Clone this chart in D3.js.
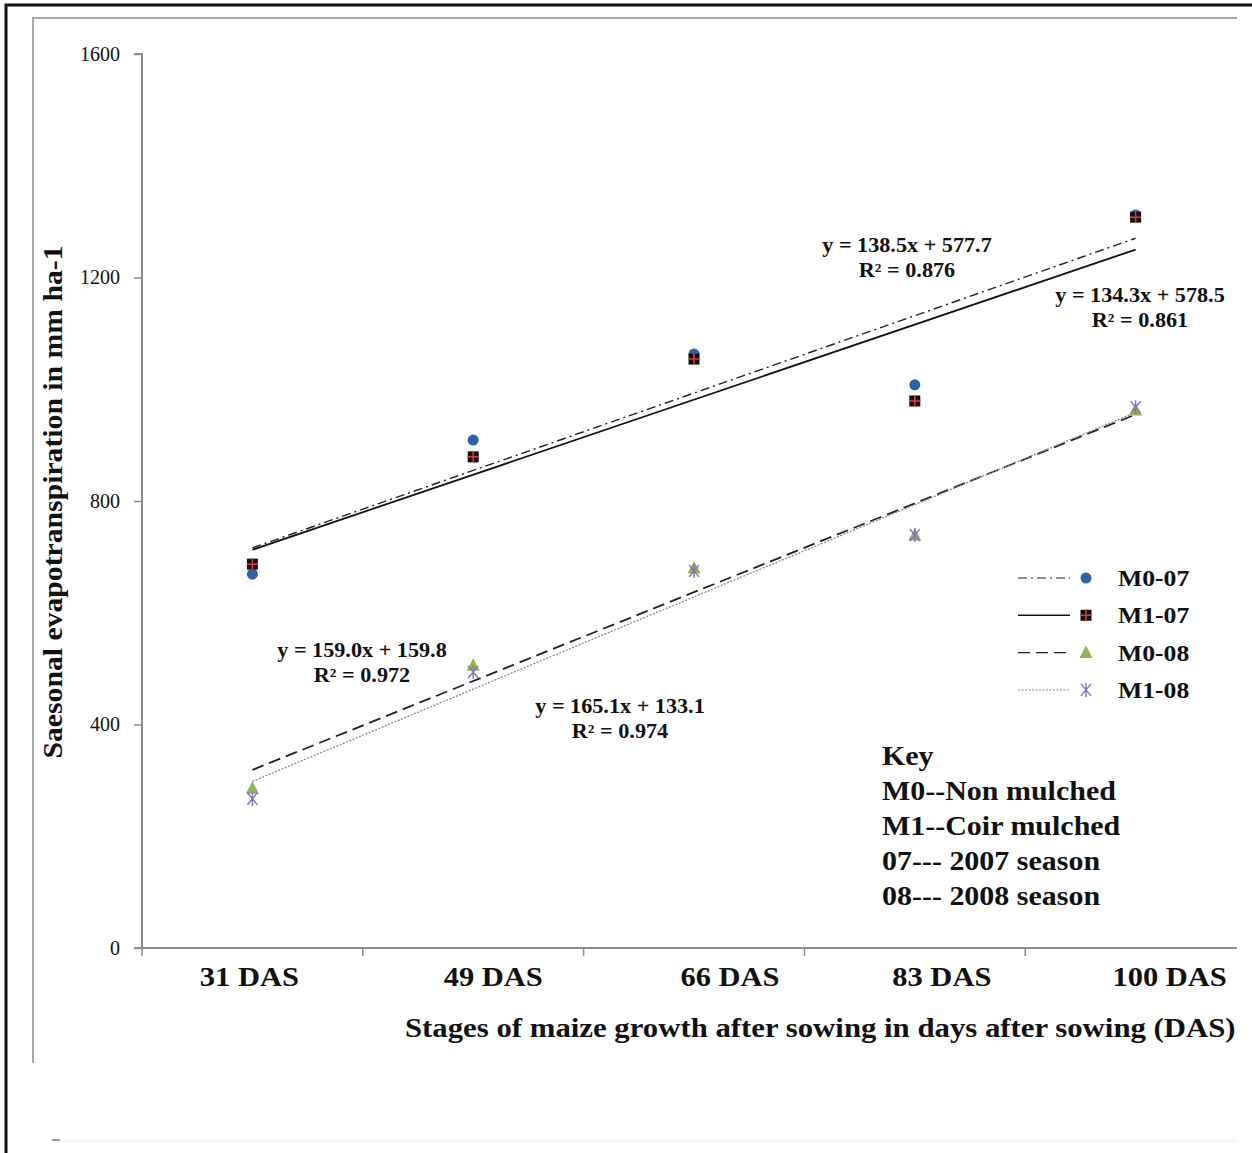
<!DOCTYPE html>
<html lang="en">
<head>
<meta charset="UTF-8">
<title>Seasonal evapotranspiration</title>
<script src="https://d3js.org/d3.v7.min.js"></script>
<style>
    body { margin: 0; background: #fff; overflow: hidden; }
    text { font-family: "Times New Roman", "Liberation Serif", serif; fill: #111; }
</style>
</head>
<body>
<script>
// ---- data ----
var categories = ["31 DAS", "49 DAS", "66 DAS", "83 DAS", "100 DAS"];
var seriesNames = ["M0-07", "M1-07", "M0-08", "M1-08"];
var m0_07 = [669, 909, 1063, 1008, 1312];
var m1_07 = [687, 879, 1054, 979, 1308];
var m0_08 = [286, 506, 680, 739, 963];
var m1_08 = [267, 494, 675, 739, 968];
var trendSlope = [138.5, 134.3, 159.0, 165.1];
var trendIntercept = [577.7, 578.5, 159.8, 133.1];
var trendR2 = ["0.876", "0.861", "0.972", "0.974"];
var yTicks = [0, 400, 800, 1200, 1600];
var keyLines = ["Key", "M0--Non mulched", "M1--Coir mulched", "07--- 2007 season", "08--- 2008 season"];

var series = [m0_07, m1_07, m0_08, m1_08];

var width = 1252, height = 1153;
var svg = d3.select("body").append("svg")
    .attr("width", width)
    .attr("height", height);

// the original text is a little wider than Times, so stretch it sideways
function placeText(sel, px, py, sx, rot) {
    sel.attr("x", 0).attr("y", 0)
        .attr("transform", (d, i) => {
            var X = typeof px === "function" ? px(d, i) : px;
            var Y = typeof py === "function" ? py(d, i) : py;
            return "translate(" + X + "," + Y + ")" + (rot ? " rotate(" + rot + ")" : "") + " scale(" + sx + ",1)";
        });
    return sel;
}

// frames
svg.append("path").attr("d", "M6,1153V5H1252").attr("fill", "none").attr("stroke", "#111").attr("stroke-width", 3);
svg.append("path").attr("d", "M33,1063V18H1237").attr("fill", "none").attr("stroke", "#a8a8a8").attr("stroke-width", 2);
svg.append("line").attr("x1", 53).attr("x2", 1237).attr("y1", 1141).attr("y2", 1141).attr("stroke", "#ececec");
svg.append("line").attr("x1", 52).attr("x2", 60).attr("y1", 1140).attr("y2", 1140).attr("stroke", "#999").attr("stroke-width", 2);

var plotRight = 1237;
var x = d3.scaleBand().domain(categories).range([142, 1246]);
var y = d3.scaleLinear().domain([0, 1600]).range([948, 54]);
var cx = c => x(c) + x.bandwidth() / 2;

// y axis
var yAxis = svg.append("g").attr("transform", "translate(142,0)")
    .call(d3.axisLeft(y).tickValues(yTicks).tickFormat(d3.format("d")).tickSize(8).tickPadding(14));
yAxis.select(".domain").attr("stroke", "#8c8c8c").attr("stroke-width", 2).attr("d", "M-8,54H0V948");
yAxis.selectAll(".tick line").attr("stroke", "#8c8c8c").attr("stroke-width", 1.5);
yAxis.selectAll(".tick text").attr("font-size", 20).attr("font-family", "'Times New Roman','Liberation Serif',serif").attr("fill", "#222");

// x axis
svg.append("line").attr("x1", 134).attr("x2", plotRight).attr("y1", 948).attr("y2", 948)
    .attr("stroke", "#8c8c8c").attr("stroke-width", 2);
svg.append("g").selectAll("line")
    .data(categories.slice(1))
    .join("line")
    .attr("x1", d => x(d)).attr("x2", d => x(d))
    .attr("y1", 948).attr("y2", 956)
    .attr("stroke", "#8c8c8c").attr("stroke-width", 1.5);
svg.append("line").attr("x1", 142).attr("x2", 142).attr("y1", 948).attr("y2", 956)
    .attr("stroke", "#8c8c8c").attr("stroke-width", 1.5);

// category labels (nudged as in the original)
var labelNudge = [-3, 20, 36, 27, 34];
placeText(svg.append("g").selectAll("text")
    .data(categories)
    .join("text"), (d, i) => cx(d) + labelNudge[i], 986, 1.13)
    .attr("text-anchor", "middle")
    .attr("font-size", 27)
    .attr("font-weight", "bold")
    .text(d => d);

// axis titles
placeText(svg.append("text"), 405, 1037, 1.14)
    .attr("font-size", 27).attr("font-weight", "bold")
    .text("Stages of maize growth after sowing in days after sowing (DAS)");
placeText(svg.append("text"), 62, 502, 1.1, -90)
    .attr("text-anchor", "middle")
    .attr("font-size", 27).attr("font-weight", "bold")
    .text("Saesonal evapotranspiration in mm ha-1");

// trendlines
var dashes = ["9,4,2,4", null, "12,6", "2,1.5"];
var lineColors = ["#222", "#111", "#222", "#888"];
var lineWidths = [1.4, 1.8, 1.8, 1.3];
var first = categories[0], last = categories[categories.length - 1];
svg.append("g").selectAll("line")
    .data(seriesNames)
    .join("line")
    .attr("x1", cx(first))
    .attr("x2", cx(last))
    .attr("y1", (d, i) => y(trendSlope[i] * 1 + trendIntercept[i]))
    .attr("y2", (d, i) => y(trendSlope[i] * categories.length + trendIntercept[i]))
    .attr("stroke", (d, i) => lineColors[i])
    .attr("stroke-width", (d, i) => lineWidths[i])
    .attr("stroke-dasharray", (d, i) => dashes[i]);

// markers
function drawMarker(g, k) {
    if (k === 0) {
        g.append("circle").attr("r", 5.5).attr("fill", "#2b63aa");
    } else if (k === 1) {
        g.append("rect").attr("x", -5.5).attr("y", -5.5).attr("width", 11).attr("height", 11).attr("fill", "#111");
        g.append("path").attr("d", "M-5.5,0H5.5M0,-6V6").attr("stroke", "#e03a3a").attr("stroke-width", 1.5);
    } else if (k === 2) {
        g.append("path").attr("d", "M0,-7L6.5,5.5H-6.5Z").attr("fill", "#8db553");
    } else {
        g.append("path").attr("d", "M-5,-6L5,6M5,-6L-5,6M0,-7V7").attr("stroke", "#8a6cc2").attr("stroke-width", 1.4);
    }
}

seriesNames.forEach(function(name, k) {
    var g = svg.append("g");
    g.selectAll("g")
        .data(series[k].map((v, i) => ({ cat: categories[i], value: v })))
        .join("g")
        .attr("transform", d => "translate(" + cx(d.cat) + "," + y(d.value) + ")")
        .each(function() { drawMarker(d3.select(this), k); });
});

// trendline equations
var eqPos = [[907, 252], [1140, 302], [362, 657], [620, 713]];
seriesNames.forEach(function(name, k) {
    var t = placeText(svg.append("text"), eqPos[k][0], eqPos[k][1], 1.11)
        .attr("text-anchor", "middle")
        .attr("font-size", 20).attr("font-weight", "bold");
    t.append("tspan").attr("x", 0).attr("y", 0)
        .text("y = " + trendSlope[k].toFixed(1) + "x + " + trendIntercept[k].toFixed(1));
    t.append("tspan").attr("x", 0).attr("y", 25)
        .text("R\u00b2 = " + trendR2[k]);
});

// legend
var legend = svg.append("g").selectAll("g")
    .data(seriesNames)
    .join("g")
    .attr("transform", (d, i) => "translate(1018," + (578 + i * 37.3) + ")");
legend.append("line")
    .attr("x1", 0).attr("x2", 52).attr("y1", 0).attr("y2", 0)
    .attr("stroke", (d, i) => lineColors[i])
    .attr("stroke-width", (d, i) => lineWidths[i] * 0.8)
    .attr("stroke-dasharray", (d, i) => dashes[i]);
legend.append("g").attr("transform", "translate(68,0)")
    .each(function(d, i) { drawMarker(d3.select(this), i); });
placeText(legend.append("text"), 100, 8, 1.07)
    .attr("font-size", 24).attr("font-weight", "bold")
    .text(d => d);

// key box text
placeText(svg.append("g").selectAll("text")
    .data(keyLines)
    .join("text"), 882, (d, i) => 765 + i * 35, 1.11)
    .attr("font-size", 27).attr("font-weight", "bold")
    .text(d => d);
</script>
</body>
</html>
